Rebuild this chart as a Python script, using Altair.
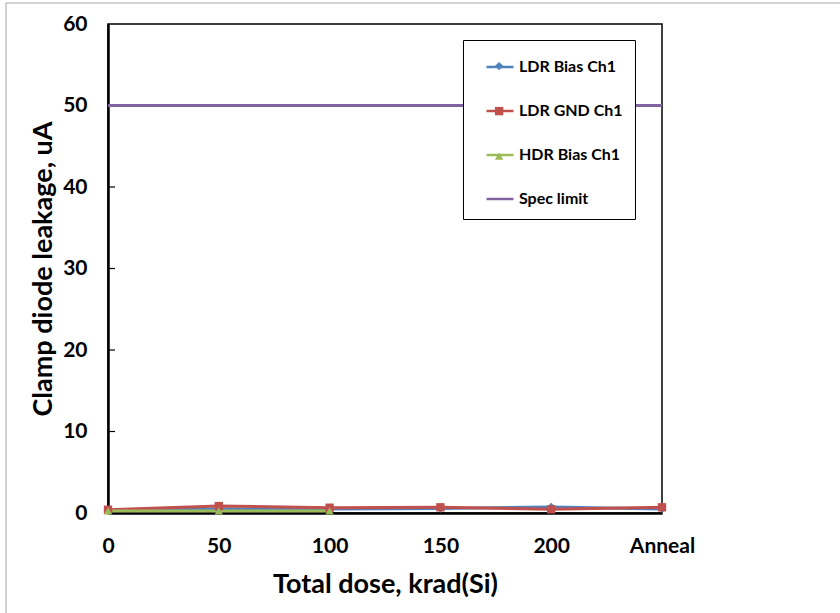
import altair as alt
import pandas as pd

doses = [0, 50, 100, 150, 200, 250]
tick_labels = ["0", "50", "100", "150", "200", "Anneal"]
y_ticks = [10, 20, 30, 40, 50]
ldr_bias = [0.3, 0.5, 0.5, 0.55, 0.75, 0.5]
ldr_gnd = [0.4, 0.85, 0.65, 0.7, 0.45, 0.7]
hdr_doses = [0, 50, 100]
hdr_bias = [0.25, 0.25, 0.25]
spec_x = [0, 250]
spec_y = [50, 50]

series = ["LDR Bias Ch1", "LDR GND Ch1", "HDR Bias Ch1", "Spec limit"]
colors = ["#4F81BD", "#C0504D", "#9BBB59", "#8064A2"]
shapes = ["diamond", "square", "triangle-up"]

rows = []
for x, y in zip(doses, ldr_bias):
    rows.append({"grp": series[0], "dose": x, "val": y})
for x, y in zip(doses, ldr_gnd):
    rows.append({"grp": series[1], "dose": x, "val": y})
for x, y in zip(hdr_doses, hdr_bias):
    rows.append({"grp": series[2], "dose": x, "val": y})
for x, y in zip(spec_x, spec_y):
    rows.append({"grp": series[3], "dose": x, "val": y})
df = pd.DataFrame(rows)

FONT = "Lato"
TITLE_SIZE = 27
LABEL_SIZE = 21

label_expr = "datum.value == 250 ? 'Anneal' : datum.label"

x_axis = alt.Axis(values=doses, title="Total dose, krad(Si)",
                  labelExpr=label_expr,
                  ticks=False, grid=False, domainColor="black", domainWidth=2.5,
                  labelPadding=22, titlePadding=15,
                  labelFont=FONT, labelFontSize=LABEL_SIZE, labelFontWeight="bold",
                  titleFont=FONT, titleFontSize=TITLE_SIZE, titleFontWeight="bold",
                  labelColor="black", titleColor="black", labelFlush=False)
y_axis = alt.Axis(values=[0, 10, 20, 30, 40, 50, 60], title="Clamp diode leakage, uA",
                  domain=True, domainColor="black", domainWidth=2.5,
                  ticks=False,
                  labelPadding=21, titlePadding=5, grid=False,
                  labelFont=FONT, labelFontSize=LABEL_SIZE, labelFontWeight="bold",
                  titleFont=FONT, titleFontSize=TITLE_SIZE, titleFontWeight="bold",
                  labelColor="black", titleColor="black")

xscale = alt.Scale(domain=[0, 250], nice=False)
yscale = alt.Scale(domain=[0, 60], nice=False)
xenc = alt.X("dose:Q", scale=xscale, axis=x_axis)
yenc = alt.Y("val:Q", scale=yscale, axis=y_axis)

base = alt.Chart(df)

# inward tick marks on the y axis
ticks = alt.Chart(pd.DataFrame({"val": y_ticks})).mark_tick(
    color="black", orient="horizontal", size=7, thickness=1.2, opacity=1
).encode(
    y=yenc,
    x=alt.value(3.5),
)

# legend A: line samples with box
leg_lines = alt.Legend(title=None, orient="none", legendX=355, legendY=16,
                       strokeColor="black", padding=12, fillColor="white",
                       symbolType="stroke", symbolSize=729, symbolStrokeWidth=2.5,
                       symbolOffset=10, rowPadding=21, labelOffset=4,
                       labelFont=FONT, labelFontSize=16, labelFontWeight="bold",
                       labelColor="black", labelLimit=200)

lines = base.mark_line(strokeWidth=3).encode(
    x=xenc, y=yenc,
    color=alt.Color("grp:N", scale=alt.Scale(domain=series, range=colors), legend=leg_lines),
    order=alt.Order("dose:Q"),
)

# legend B: markers placed over the middle of the line samples
leg_marks = alt.Legend(title=None, orient="none", legendX=386.6, legendY=37.6,
                       padding=0, symbolSize=70, symbolStrokeWidth=0, rowPadding=36,
                       labelFontSize=1, labelOpacity=0, labelOffset=0,
                       symbolOpacity=1)

pts = base.transform_filter(alt.datum.grp != series[3]).mark_point(
    filled=True, size=70, opacity=1
).encode(
    x=xenc, y=yenc,
    fill=alt.Fill("grp:N", scale=alt.Scale(domain=series[:3], range=colors[:3]), legend=leg_marks),
    shape=alt.Shape("grp:N", scale=alt.Scale(domain=series[:3], range=shapes), legend=leg_marks),
)

frame_left = alt.Chart(pd.DataFrame({"k": [0]})).mark_rule(color="#a6a6a6", strokeWidth=1).encode(
    x=alt.value(-102), y=alt.value(-21), y2=alt.value(600))
frame_top = alt.Chart(pd.DataFrame({"k": [0]})).mark_rule(color="#a6a6a6", strokeWidth=1).encode(
    x=alt.value(-102), x2=alt.value(740), y=alt.value(-21))

chart = alt.layer(frame_left, frame_top, ticks, lines, pts).properties(
    width=554, height=489,
    autosize=alt.AutoSizeParams(type="none"),
    padding={"left": 108, "top": 24, "right": 178, "bottom": 100},
    background="white",
).configure_view(stroke="black", strokeWidth=1.5).configure_legend(strokeWidth=1)

chart.save("out.html", embed_options={"renderer": "svg", "actions": False})
